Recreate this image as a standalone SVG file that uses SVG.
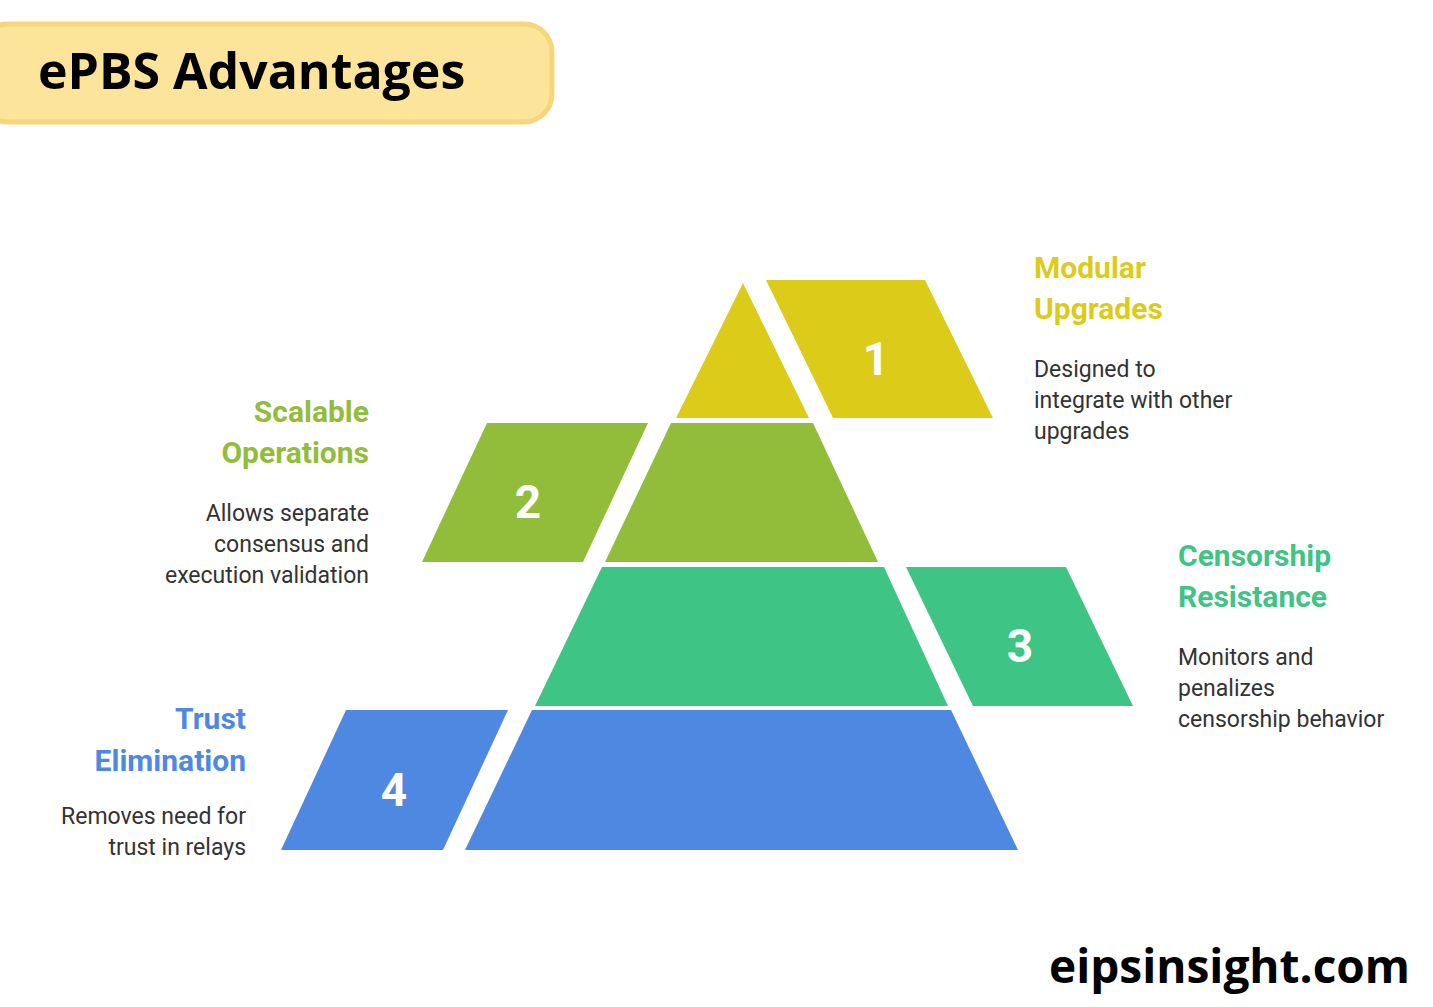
<svg xmlns="http://www.w3.org/2000/svg" width="1433" height="1007" viewBox="0 0 1433 1007">
<style>
.h{font-family:Roboto,"Liberation Sans",sans-serif;font-weight:700;font-size:30px}
.d{font-family:Roboto,"Liberation Sans",sans-serif;font-size:23px;fill:#333}
.n{font-family:Roboto,"Liberation Sans",sans-serif;font-weight:700;font-size:46px;fill:#fff;text-anchor:middle}
.y{fill:#DDCB1A}.g{fill:#92BD3A}.t{fill:#3EC484}.b{fill:#4F88E0}
</style>
<rect width="1433" height="1007" fill="#fff"/>
<g id="title">
<rect x="-20" y="24" width="572" height="98" rx="28" fill="#FCE59B" stroke="#F6D67A" stroke-width="5"/>
<text x="38" y="89" font-family="'Open Sans','Liberation Sans',sans-serif" font-weight="700" font-size="50" fill="#000">ePBS Advantages</text>
</g>
<g id="level1">
<polygon class="y" points="743,283 809,418 676,418"/>
<polygon class="y" points="766,280 925,280 993,418 833,418"/>
<text class="n" x="876" y="375">1</text>
<text class="h" x="1034" y="278" fill="#DDCB1A">Modular</text>
<text class="h" x="1034" y="319" fill="#DDCB1A">Upgrades</text>
<text class="d" x="1034" y="377">Designed to</text>
<text class="d" x="1034" y="408">integrate with other</text>
<text class="d" x="1034" y="439">upgrades</text>
</g>
<g id="level2">
<polygon class="g" points="671,423 813,423 878,562 605,562"/>
<polygon class="g" points="487,423 648,423 583,562 422,562"/>
<text class="n" x="528" y="518">2</text>
<g text-anchor="end">
<text class="h" x="369" y="422" fill="#92BD3A">Scalable</text>
<text class="h" x="369" y="463" fill="#92BD3A">Operations</text>
<text class="d" x="369" y="521">Allows separate</text>
<text class="d" x="369" y="552">consensus and</text>
<text class="d" x="369" y="583">execution validation</text>
</g>
</g>
<g id="level3">
<polygon class="t" points="602,567 884,567 948,706 535,706"/>
<polygon class="t" points="906,567 1066,567 1133,706 973,706"/>
<text class="n" x="1020" y="662">3</text>
<text class="h" x="1178" y="566" fill="#3EC484">Censorship</text>
<text class="h" x="1178" y="607" fill="#3EC484">Resistance</text>
<text class="d" x="1178" y="665">Monitors and</text>
<text class="d" x="1178" y="696">penalizes</text>
<text class="d" x="1178" y="727">censorship behavior</text>
</g>
<g id="level4">
<polygon class="b" points="532,710 951,710 1018,850 465,850"/>
<polygon class="b" points="346,710 508,710 443,850 281,850"/>
<text class="n" x="394" y="806">4</text>
<g text-anchor="end">
<text class="h" x="246" y="729" fill="#4F88E0">Trust</text>
<text class="h" x="246" y="771" fill="#4F88E0">Elimination</text>
<text class="d" x="246" y="824">Removes need for</text>
<text class="d" x="246" y="855">trust in relays</text>
</g>
</g>
<g id="connectors"/>
<text x="1410" y="983" text-anchor="end" font-family="'Open Sans','Liberation Sans',sans-serif" font-weight="700" font-size="46" fill="#000">eipsinsight.com</text>
</svg>
